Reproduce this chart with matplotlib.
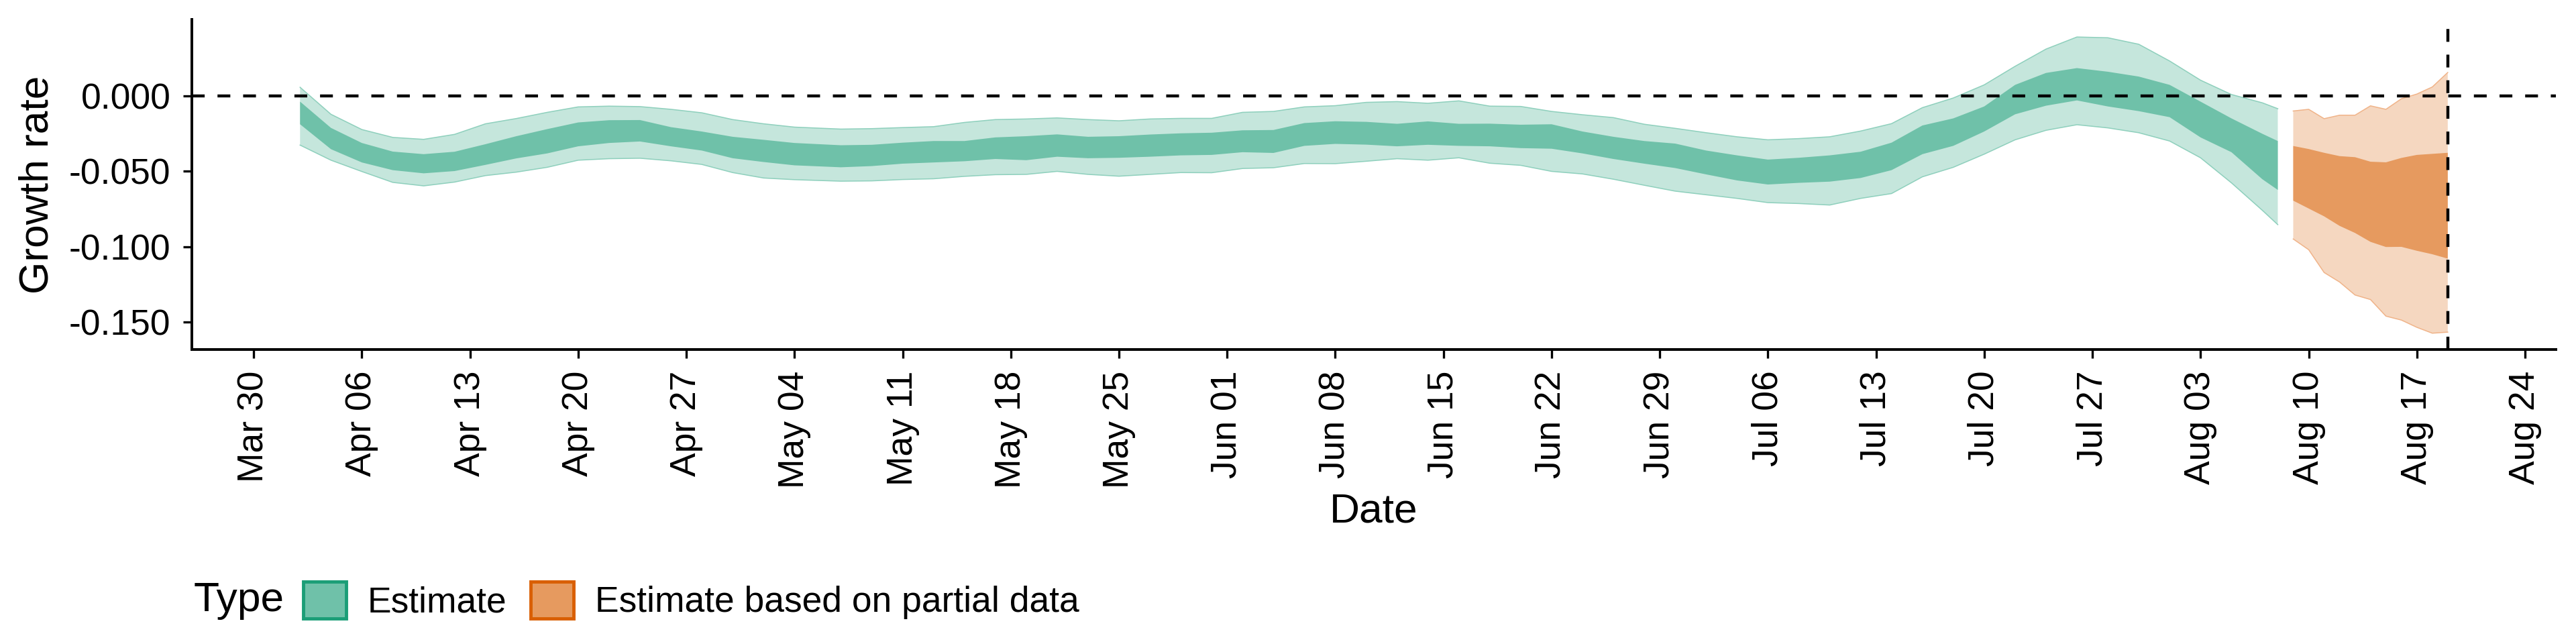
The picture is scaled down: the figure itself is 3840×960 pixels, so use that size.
import numpy as np
import matplotlib
matplotlib.use("Agg")
import matplotlib.pyplot as plt
import matplotlib.dates as mdates
from matplotlib.patches import Patch
import pandas as pd

# growth rate estimates, days counted from 2020-03-30
base_date = "2020-03-30"

est_days = [3, 5, 7, 9, 11, 13, 15, 17, 19, 21, 23, 25, 27, 29, 31, 33, 35,
            38, 40, 42, 44, 46, 48, 50, 52, 54, 56, 58, 60, 62, 64, 66, 68, 70,
            72, 74, 76, 78, 80, 82, 84, 86, 88, 90, 92,
            94, 96, 98, 100, 102, 104, 106, 108, 110, 112, 114, 116, 118, 120,
            122, 124, 126, 128, 130, 131]
est_outer_hi = [0.0057, -0.0122, -0.0223, -0.0275, -0.0288, -0.0255, -0.0185, -0.0150, -0.0109,
                -0.0073, -0.0068, -0.0071, -0.0089, -0.0112, -0.0157, -0.0185, -0.0207,
                -0.0220, -0.0217, -0.0210, -0.0204, -0.0176, -0.0157, -0.0153, -0.0146, -0.0157,
                -0.0165, -0.0153, -0.0149, -0.0149, -0.0109, -0.0103, -0.0073, -0.0065, -0.0043,
                -0.0038, -0.0049, -0.0033, -0.0068, -0.0070, -0.0103, -0.0125, -0.0144, -0.0188,
                -0.0215,
                -0.0244, -0.0271, -0.0291, -0.0283, -0.0271, -0.0233, -0.0184, -0.0078, -0.0014,
                0.0073, 0.0196, 0.0310, 0.0390, 0.0385, 0.0342, 0.0231, 0.0104, 0.0009, -0.0046,
                -0.0085]
est_outer_lo = [-0.0326, -0.0426, -0.0501, -0.0573, -0.0596, -0.0571, -0.0528, -0.0505, -0.0473,
                -0.0426, -0.0416, -0.0413, -0.0430, -0.0454, -0.0508, -0.0544, -0.0555,
                -0.0565, -0.0563, -0.0554, -0.0549, -0.0533, -0.0522, -0.0520, -0.0500, -0.0520,
                -0.0532, -0.0520, -0.0508, -0.0509, -0.0481, -0.0476, -0.0448, -0.0449, -0.0433,
                -0.0416, -0.0426, -0.0410, -0.0446, -0.0460, -0.0500, -0.0517, -0.0552, -0.0592,
                -0.0631,
                -0.0655, -0.0679, -0.0707, -0.0713, -0.0723, -0.0679, -0.0647, -0.0536, -0.0473,
                -0.0386, -0.0291, -0.0228, -0.0191, -0.0212, -0.0244, -0.0299, -0.0410, -0.0576,
                -0.0758, -0.0853]
est_inner_hi = [-0.0038, -0.0212, -0.0312, -0.0369, -0.0386, -0.0370, -0.0320, -0.0267, -0.0220,
                -0.0176, -0.0161, -0.0160, -0.0207, -0.0236, -0.0271, -0.0291, -0.0312,
                -0.0327, -0.0324, -0.0310, -0.0299, -0.0299, -0.0275, -0.0267, -0.0255, -0.0271,
                -0.0267, -0.0256, -0.0248, -0.0244, -0.0228, -0.0226, -0.0180, -0.0168, -0.0172,
                -0.0185, -0.0169, -0.0185, -0.0184, -0.0191, -0.0188, -0.0236, -0.0271, -0.0299,
                -0.0316,
                -0.0362, -0.0394, -0.0422, -0.0410, -0.0394, -0.0370, -0.0310, -0.0196, -0.0149,
                -0.0070, 0.0073, 0.0152, 0.0184, 0.0160, 0.0128, 0.0073, -0.0038, -0.0149,
                -0.0251, -0.0299]
est_inner_lo = [-0.0188, -0.0353, -0.0441, -0.0492, -0.0513, -0.0498, -0.0457, -0.0414, -0.0381,
                -0.0334, -0.0312, -0.0302, -0.0334, -0.0362, -0.0413, -0.0438, -0.0460,
                -0.0473, -0.0465, -0.0449, -0.0441, -0.0433, -0.0418, -0.0426, -0.0403, -0.0413,
                -0.0410, -0.0403, -0.0394, -0.0391, -0.0373, -0.0378, -0.0331, -0.0318, -0.0323,
                -0.0334, -0.0324, -0.0331, -0.0334, -0.0346, -0.0350, -0.0381, -0.0418, -0.0449,
                -0.0478,
                -0.0520, -0.0560, -0.0587, -0.0576, -0.0568, -0.0544, -0.0492, -0.0386, -0.0331,
                -0.0236, -0.0122, -0.0065, -0.0030, -0.0070, -0.0101, -0.0141, -0.0275, -0.0373,
                -0.0552, -0.0623]

part_days = [132, 133, 134, 135, 136, 137, 138, 139, 140, 141, 142]
part_outer_hi = [-0.0100, -0.0089, -0.0151, -0.0128, -0.0128, -0.0066, -0.0089, -0.0019, 0.0012,
                 0.0059, 0.0155]
part_outer_lo = [-0.0948, -0.1019, -0.1170, -0.1233, -0.1319, -0.1349, -0.1459, -0.1485, -0.1533,
                 -0.1572, -0.1565]
part_inner_hi = [-0.0332, -0.0352, -0.0377, -0.0399, -0.0406, -0.0436, -0.0440, -0.0411, -0.0391,
                 -0.0384, -0.0377]
part_inner_lo = [-0.0694, -0.0746, -0.0798, -0.0861, -0.0908, -0.0967, -0.1001, -0.1000, -0.1026,
                 -0.1049, -0.1078]

y_ticks = [0.0, -0.05, -0.10, -0.15]
legend_labels = ["Estimate", "Estimate based on partial data"]


def to_dates(days):
    return pd.Timestamp(base_date) + pd.to_timedelta(days, unit="D")


def draw_band(ax, days, outer_hi, outer_lo, inner_hi, inner_lo, light, dark, edge):
    x = to_dates(days)
    ax.fill_between(x, outer_lo, outer_hi, facecolor=light, edgecolor="none", zorder=2)
    ax.plot(x, outer_hi, color=edge, lw=0.35, zorder=2.5)
    ax.plot(x, outer_lo, color=edge, lw=0.35, zorder=2.5)
    ax.fill_between(x, inner_lo, inner_hi, facecolor=dark, edgecolor="none", zorder=3)


def main():
    plt.rcParams['font.family'] = ['Liberation Sans', 'DejaVu Sans']
    plt.rcParams['axes.unicode_minus'] = False

    fig = plt.figure(figsize=(12, 3), dpi=320)
    ax = fig.add_axes([0.0745, 0.4573, 0.9922 - 0.0745, 0.9702 - 0.4573])

    draw_band(ax, est_days, est_outer_hi, est_outer_lo, est_inner_hi, est_inner_lo,
              "#c5e6dc", "#6fc1a9", "#8fd0bd")
    draw_band(ax, part_days, part_outer_hi, part_outer_lo, part_inner_hi, part_inner_lo,
              "#f5d7c0", "#e69a5f", "#f0b48a")

    #reference lines: zero growth and last date of data
    ax.axhline(0, color="black", lw=1.0, ls=(0, (4.3, 4.3)), zorder=4)
    ax.axvline(to_dates([part_days[-1]])[0], color="black", lw=1.0, ls=(0, (4.3, 4.3)), zorder=4)

    #axes styling like cowplot
    ax.set_xlim(to_dates([-4])[0], to_dates([149])[0])
    ax.set_ylim(-0.168, 0.0508)
    for side in ["top", "right"]:
        ax.spines[side].set_visible(False)
    for side in ["left", "bottom"]:
        ax.spines[side].set_linewidth(0.9)
    ax.set_yticks(y_ticks)
    ax.set_yticklabels([f"{v:.3f}" for v in y_ticks])
    ax.xaxis.set_major_locator(mdates.WeekdayLocator(byweekday=mdates.MO))
    ax.xaxis.set_major_formatter(mdates.DateFormatter("%b %d"))
    ax.tick_params(axis="both", length=2.9, width=0.75, labelsize=12, colors="black")
    ax.tick_params(axis="x", pad=4.2, labelrotation=90)
    ax.tick_params(axis="y", pad=4.2)

    fig.text(2048 / 3840, 1 - 763 / 960, "Date", fontsize=14, ha="center", va="center")
    fig.text(56 / 3840, 1 - 275 / 960, "Growth rate", fontsize=14, rotation=90,
             ha="center", va="center")

    #legend with title on the left
    fig.text(289 / 3840, 1 - 895 / 960, "Type", fontsize=14, ha="left", va="center")
    handles = [Patch(facecolor="#6fc1a9", edgecolor="#1b9e77", linewidth=1.1),
               Patch(facecolor="#e69a5f", edgecolor="#d95f02", linewidth=1.1)]
    fig.legend(handles, legend_labels, loc="center left", bbox_to_anchor=(452 / 3840, 1 - 895 / 960),
               ncol=2, frameon=False, fontsize=12, handlelength=1.2, handleheight=1.2,
               handletextpad=0.6, columnspacing=0.66, borderpad=0, borderaxespad=0)

    fig.savefig("out.png", dpi=320)


if __name__ == "__main__":
    main()
